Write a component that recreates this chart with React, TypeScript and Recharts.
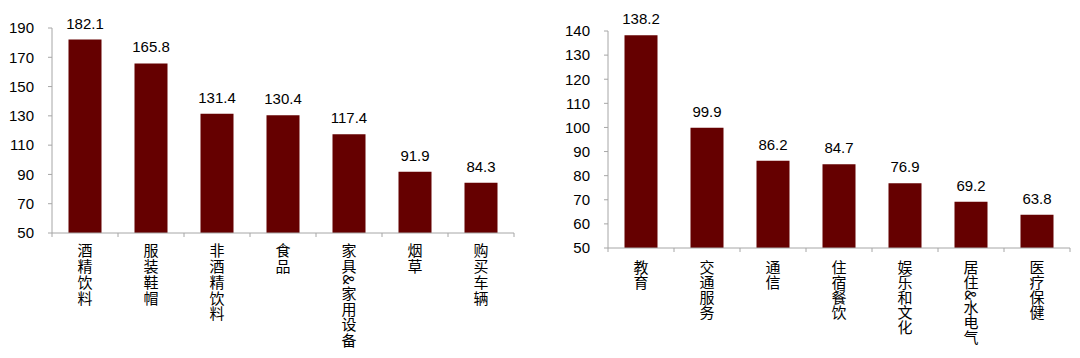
import React from 'react';
import { BarChart, Bar, XAxis, YAxis, LabelList } from 'recharts';

const leftCategories = ['酒精饮料', '服装鞋帽', '非酒精饮料', '食品', '家具&家用设备', '烟草', '购买车辆'];
const leftValues = [182.1, 165.8, 131.4, 130.4, 117.4, 91.9, 84.3];
const leftTicks = [50, 70, 90, 110, 130, 150, 170, 190];

const rightCategories = ['教育', '交通服务', '通信', '住宿餐饮', '娱乐和文化', '居住&水电气', '医疗保健'];
const rightValues = [138.2, 99.9, 86.2, 84.7, 76.9, 69.2, 63.8];
const rightTicks = [50, 60, 70, 80, 90, 100, 110, 120, 130, 140];

const leftData = leftCategories.map((name, i) => ({ name, value: leftValues[i] }));
const rightData = rightCategories.map((name, i) => ({ name, value: rightValues[i] }));

const BAR = '#650000';
const AXIS = '#a6a6a6';
const NUM_FONT = '"Liberation Sans", Arial, sans-serif';
const CJK_FONT = '"Noto Sans CJK SC", "Liberation Sans", sans-serif';

function makeTick(gap: number, spacing: number, count: number) {
  return function VerticalTick(props: any) {
    const { x, y, payload, index } = props;
    const half = payload && typeof payload.offset === 'number' && payload.offset > 0 ? payload.offset : 33;
    const text: string = String(payload.value);
    return (
      <g>
        <line x1={x - half} y1={y} x2={x - half} y2={y + 4} stroke={AXIS} strokeWidth={1} />
        {index === count - 1 && <line x1={x + half} y1={y} x2={x + half} y2={y + 4} stroke={AXIS} strokeWidth={1} />}
        <text
          x={x}
          y={y + gap}
          fontSize={15}
          fontFamily={CJK_FONT}
          fill="#000"
          style={{ writingMode: 'vertical-rl', textOrientation: 'mixed', letterSpacing: spacing }}
        >
          {text}
        </text>
      </g>
    );
  };
}

const LeftTick = makeTick(10, 0.8, leftCategories.length);
const RightTick = makeTick(12, 0, rightCategories.length);

export default function App() {
  return (
    <div style={{ position: 'absolute', left: 0, top: 0, width: 1080, height: 358, background: '#fff' }}>
      <div style={{ position: 'absolute', left: 0, top: 0 }}>
        <BarChart width={540} height={358} data={leftData} margin={{ top: 28, right: 26, bottom: 0, left: 0 }} barCategoryGap="25%">
          <XAxis
            dataKey="name"
            interval={0}
            height={125}
            tickLine={false}
            tickSize={0}
            tickMargin={0}
            axisLine={{ stroke: AXIS }}
            tick={<LeftTick />}
          />
          <YAxis
            width={52}
            domain={[50, 190]}
            ticks={leftTicks}
            interval={0}
            allowDataOverflow
            axisLine={{ stroke: AXIS }}
            tickLine={{ stroke: AXIS }}
            tickSize={4}
            tickMargin={14}
            tick={{ fontSize: 15, fill: '#000', fontFamily: NUM_FONT }}
          />
          <Bar dataKey="value" fill={BAR} isAnimationActive={false}>
            <LabelList dataKey="value" position="top" offset={11} fontSize={15} fill="#000" fontFamily={NUM_FONT} formatter={(v: any) => Number(v).toFixed(1)} />
          </Bar>
        </BarChart>
      </div>
      <div style={{ position: 'absolute', left: 540, top: 0 }}>
        <BarChart width={540} height={358} data={rightData} margin={{ top: 31, right: 10, bottom: 0, left: 0 }} barCategoryGap="25%">
          <XAxis
            dataKey="name"
            interval={0}
            height={110}
            tickLine={false}
            tickSize={0}
            tickMargin={0}
            axisLine={{ stroke: AXIS }}
            tick={<RightTick />}
          />
          <YAxis
            width={68}
            domain={[50, 140]}
            ticks={rightTicks}
            interval={0}
            allowDataOverflow
            axisLine={{ stroke: AXIS }}
            tickLine={{ stroke: AXIS }}
            tickSize={4}
            tickMargin={14}
            tick={{ fontSize: 15, fill: '#000', fontFamily: NUM_FONT }}
          />
          <Bar dataKey="value" fill={BAR} isAnimationActive={false}>
            <LabelList dataKey="value" position="top" offset={11} fontSize={15} fill="#000" fontFamily={NUM_FONT} formatter={(v: any) => Number(v).toFixed(1)} />
          </Bar>
        </BarChart>
      </div>
    </div>
  );
}
